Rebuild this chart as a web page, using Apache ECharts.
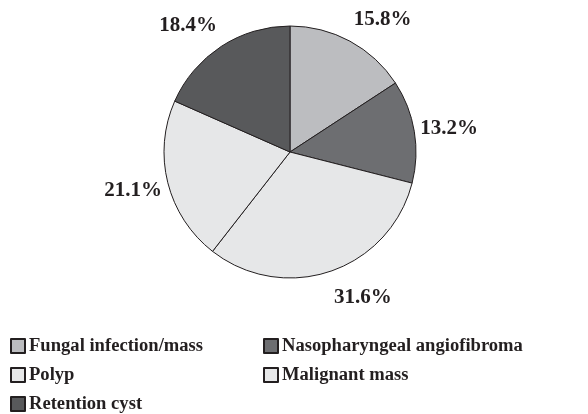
<!DOCTYPE html>
<html>
<head>
<meta charset="utf-8">
<script src="https://cdn.jsdelivr.net/npm/echarts@6/dist/echarts.min.js"></script>
<style>html,body{margin:0;padding:0;background:#fff}#c{width:588px;height:414px}</style>
</head>
<body>
<div id="c"></div>
<script>
// Pie data in clockwise order starting at 12 o'clock
const categories = ['Fungal infection/mass', 'Nasopharyngeal angiofibroma', 'Malignant mass', 'Polyp', 'Retention cyst'];
const percentages = [15.8, 13.2, 31.6, 21.1, 18.4];
const sliceColors = ['#bcbdc0', '#6d6e71', '#e6e7e8', '#e6e7e8', '#58595b'];
const legendColumn1 = ['Fungal infection/mass', 'Polyp', 'Retention cyst'];
const legendColumn2 = ['Nasopharyngeal angiofibroma', 'Malignant mass'];

const FONT = '"Liberation Serif", "DejaVu Serif", serif';
const CX = 290, CY = 152, R = 126;
const LABEL_V_STRETCH = 1.17; // labels sit on a slightly taller ellipse than the pie
const chart = echarts.init(document.getElementById('c'), null, {renderer: 'canvas'});

const legendText = {fontFamily: FONT, fontWeight: 'bold', fontSize: 18.6, color: '#231f20', lineHeight: 20, padding: [0, 0, 0, -1]};
const legendBase = {
  orient: 'vertical',
  top: 336,
  itemWidth: 14,
  itemHeight: 14,
  itemGap: 9,
  icon: 'rect',
  textStyle: legendText,
  selectedMode: false,
  padding: 0
};

chart.setOption({
  animation: false,
  backgroundColor: '#ffffff',
  color: sliceColors,
  legend: [
    Object.assign({}, legendBase, {left: 10, data: legendColumn1}),
    Object.assign({}, legendBase, {left: 263, data: legendColumn2})
  ],
  series: [{
    type: 'pie',
    center: [CX, CY],
    radius: R,
    startAngle: 90,
    clockwise: true,
    avoidLabelOverlap: false,
    itemStyle: {borderColor: '#231f20', borderWidth: 1},
    label: {
      show: true,
      position: 'outside',
      formatter: p => p.value.toFixed(1) + '%',
      fontFamily: FONT,
      fontWeight: 'bold',
      fontSize: 21,
      color: '#231f20',
      distanceToLabelLine: 2
    },
    labelLine: {show: false, length: 4, length2: 0},
    labelLayout: p => {
      const cy = p.labelRect.y + p.labelRect.height / 2;
      return {y: CY + (cy - CY) * LABEL_V_STRETCH + 1.5};
    },
    emphasis: {disabled: true},
    data: categories.map((n, i) => ({name: n, value: percentages[i]}))
  }]
});
</script>
</body>
</html>
